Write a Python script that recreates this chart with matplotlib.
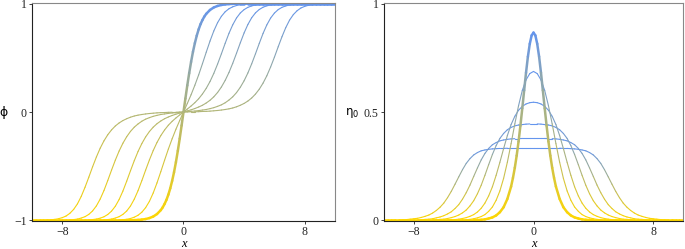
import numpy as np
import matplotlib
matplotlib.use("Agg")
import matplotlib.pyplot as plt
from matplotlib.collections import LineCollection
from matplotlib.colors import LinearSegmentedColormap

plt.rcParams['font.family'] = ['Liberation Serif', 'DejaVu Sans']

# sample points for x >= 0 (phi is odd in x, eta_0 is even in x)
x_half = np.arange(0, 10.01, 0.25)
# denser near the centre for the steepest curve
x_steep = np.concatenate([np.arange(0, 1.5, 0.125), np.arange(1.5, 10.01, 0.25)])

# phi(x), x >= 0, in units of 1e-3
phi_1 = [0, 124, 245, 358, 462, 555, 635, 704, 762, 810, 848, 880, 905, 941, 964, 978,
         987, 992, 995, 997, 998, 999, 999, 1000, 1000, 1000, 1000, 1000, 1000, 1000, 1000,
         1000, 1000, 1000, 1000, 1000, 1000, 1000, 1000, 1000, 1000, 1000, 1000, 1000, 1000,
         1000, 1000]
phi_2 = [0, 78, 159, 247, 342, 445, 551, 654, 747, 824, 882, 924, 952, 970, 982, 989, 993,
         996, 997, 998, 999, 999, 1000, 1000, 1000, 1000, 1000, 1000, 1000, 1000, 1000,
         1000, 1000, 1000, 1000, 1000, 1000, 1000, 1000, 1000, 1000]
phi_3 = [0, 27, 55, 86, 122, 166, 218, 281, 356, 442, 536, 633, 725, 804, 867, 913, 944,
         965, 978, 987, 992, 995, 997, 998, 999, 999, 1000, 1000, 1000, 1000, 1000,
         1000, 1000, 1000, 1000, 1000, 1000, 1000, 1000, 1000, 1000]
phi_4 = [0, 10, 20, 32, 46, 62, 83, 108, 140, 180, 230, 291, 364, 449, 542, 638, 729,
         807, 869, 914, 945, 966, 979, 987, 992, 995, 997, 998, 999, 999, 1000,
         1000, 1000, 1000, 1000, 1000, 1000, 1000, 1000, 1000, 1000]
phi_5 = [0, 3, 6, 9, 13, 18, 23, 31, 40, 52, 66, 85, 110, 140, 179, 228, 288,
         360, 444, 536, 632, 724, 803, 866, 912, 944, 965, 978, 987, 992, 995,
         997, 998, 999, 999, 1000, 1000, 1000, 1000, 1000, 1000]
phi_6 = [0, 1, 2, 2, 3, 5, 6, 8, 11, 14, 18, 23, 29, 37, 48, 62, 79,
         101, 129, 165, 210, 266, 334, 415, 505, 601, 694, 778, 847, 898, 934,
         959, 974, 984, 990, 994, 996, 998, 999, 999, 1000]

# eta_0(x), x >= 0, in units of 1e-3
eta_1 = [866, 853, 814, 755, 681, 600, 517, 437, 364, 299, 243, 196, 156, 99, 61, 38, 23,
         14, 9, 5, 3, 2, 1, 1, 0, 0, 0, 0, 0, 0, 0, 0, 0, 0, 0, 0, 0, 0, 0, 0, 0, 0, 0, 0,
         0, 0, 0]
eta_2 = [687, 677, 648, 599, 529, 445, 354, 268, 194, 136, 93, 62, 42, 27, 18, 12, 8, 5, 3, 2,
         1, 1, 1, 0, 0, 0, 0, 0, 0, 0, 0, 0, 0, 0, 0, 0, 0, 0, 0, 0, 0]
eta_3 = [545, 543, 537, 526, 508, 480, 442, 391, 331, 268, 208, 155, 113, 80, 56, 39, 27, 19,
         13, 9, 6, 4, 3, 2, 1, 1, 1, 0, 0, 0, 0, 0, 0, 0, 0, 0, 0, 0, 0, 0, 0]
eta_4 = [445, 445, 444, 442, 440, 436, 429, 418, 401, 378, 345, 304, 257, 208, 162, 123, 91,
         67, 48, 35, 25, 18, 13, 9, 6, 5, 3, 2, 2, 1, 1, 1, 0, 0, 0, 0, 0, 0, 0, 0, 0]
eta_5 = [378, 378, 378, 378, 377, 377, 376, 374, 371, 367, 359, 349, 332, 309, 279, 242, 203,
         163, 128, 98, 73, 55, 40, 30, 22, 16, 12, 8, 6, 5, 3, 2, 2, 1, 1, 1, 0, 0, 0, 0, 0]
eta_6 = [333, 333, 333, 333, 333, 333, 333, 333, 332, 332, 331, 330, 328, 325, 321, 313, 302,
         285, 263, 234, 201, 167, 134, 105, 80, 61, 46, 34, 25, 19, 14, 10, 8, 6, 4, 3, 2, 2,
         1, 1, 1]

phis = [phi_1, phi_2, phi_3, phi_4, phi_5, phi_6]
etas = [eta_1, eta_2, eta_3, eta_4, eta_5, eta_6]
grids = [x_steep, x_half, x_half, x_half, x_half, x_half]

cmap = LinearSegmentedColormap.from_list('kink', ['#FFD700', '#6495ED'])


def colored_line(ax, x, y, c, lw):
    pts = np.column_stack([x, y]).reshape(-1, 1, 2)
    seg = np.concatenate([pts[:-1], pts[1:]], axis=1)
    cs = cmap(0.5 * (c[:-1] + c[1:]))
    ax.add_collection(LineCollection(seg, colors=cs, linewidths=lw,
                                     capstyle='round', joinstyle='round'))


fig = plt.figure(figsize=(6.85, 2.49), dpi=100)
ax1 = fig.add_axes([32 / 685, 1 - 221 / 249, 303 / 685, 218 / 249])
ax2 = fig.add_axes([384 / 685, 1 - 221 / 249, 299 / 685, 218 / 249])

# thin curves first, the steep one on top
for i in range(len(phis) - 1, -1, -1):
    xh = grids[i]
    x = np.concatenate([-xh[::-1], xh[1:]])
    p = np.array(phis[i]) / 1000
    y = np.concatenate([-p[::-1], p[1:]])
    colored_line(ax1, x, y, (y + 1) / 2, 1.8 if i == 0 else 0.8)

for i in range(len(etas) - 1, -1, -1):
    xh = grids[i]
    x = np.concatenate([-xh[::-1], xh[1:]])
    h = np.array(etas[i]) / 1000
    y = np.concatenate([h[::-1], h[1:]])
    colored_line(ax2, x, y, y / y.max(), 1.8 if i == 0 else 0.8)

ax1.set_ylim(-1.005, 1.005)
ax1.set_yticks([-1, 0, 1], ['\u22121', '0', '1'])
ax2.set_ylim(-0.0025, 1.0025)
ax2.set_yticks([0, 0.5, 1], ['0', '0.5', '1'])

for ax in (ax1, ax2):
    ax.set_xlim(-10, 10)
    ax.set_xticks([-8, 0, 8], ['\u22128', '0', '8'])
    ax.tick_params(direction='out', length=2.5, width=0.6, pad=1.0, labelsize=8.5,
                   top=False, right=False, colors='#222222')
    ax.tick_params(axis='y', pad=1.5)
    for s in ('top', 'right'):
        ax.spines[s].set_color('#888888')
        ax.spines[s].set_linewidth(0.8)
    for s in ('left', 'bottom'):
        ax.spines[s].set_color('#222222')
        ax.spines[s].set_linewidth(0.8)
    ax.set_xlabel('x', style='italic', size=9, labelpad=0)

fig.text(4 / 685, 1 - 112 / 249, '\u03d5', family=['DejaVu Sans'], size=9,
         ha='center', va='center')
fig.text(352 / 685, 1 - 113 / 249, '\u03b7$_{0}$', family=['DejaVu Sans'], size=8.5,
         ha='center', va='center')

fig.savefig('out.png')
